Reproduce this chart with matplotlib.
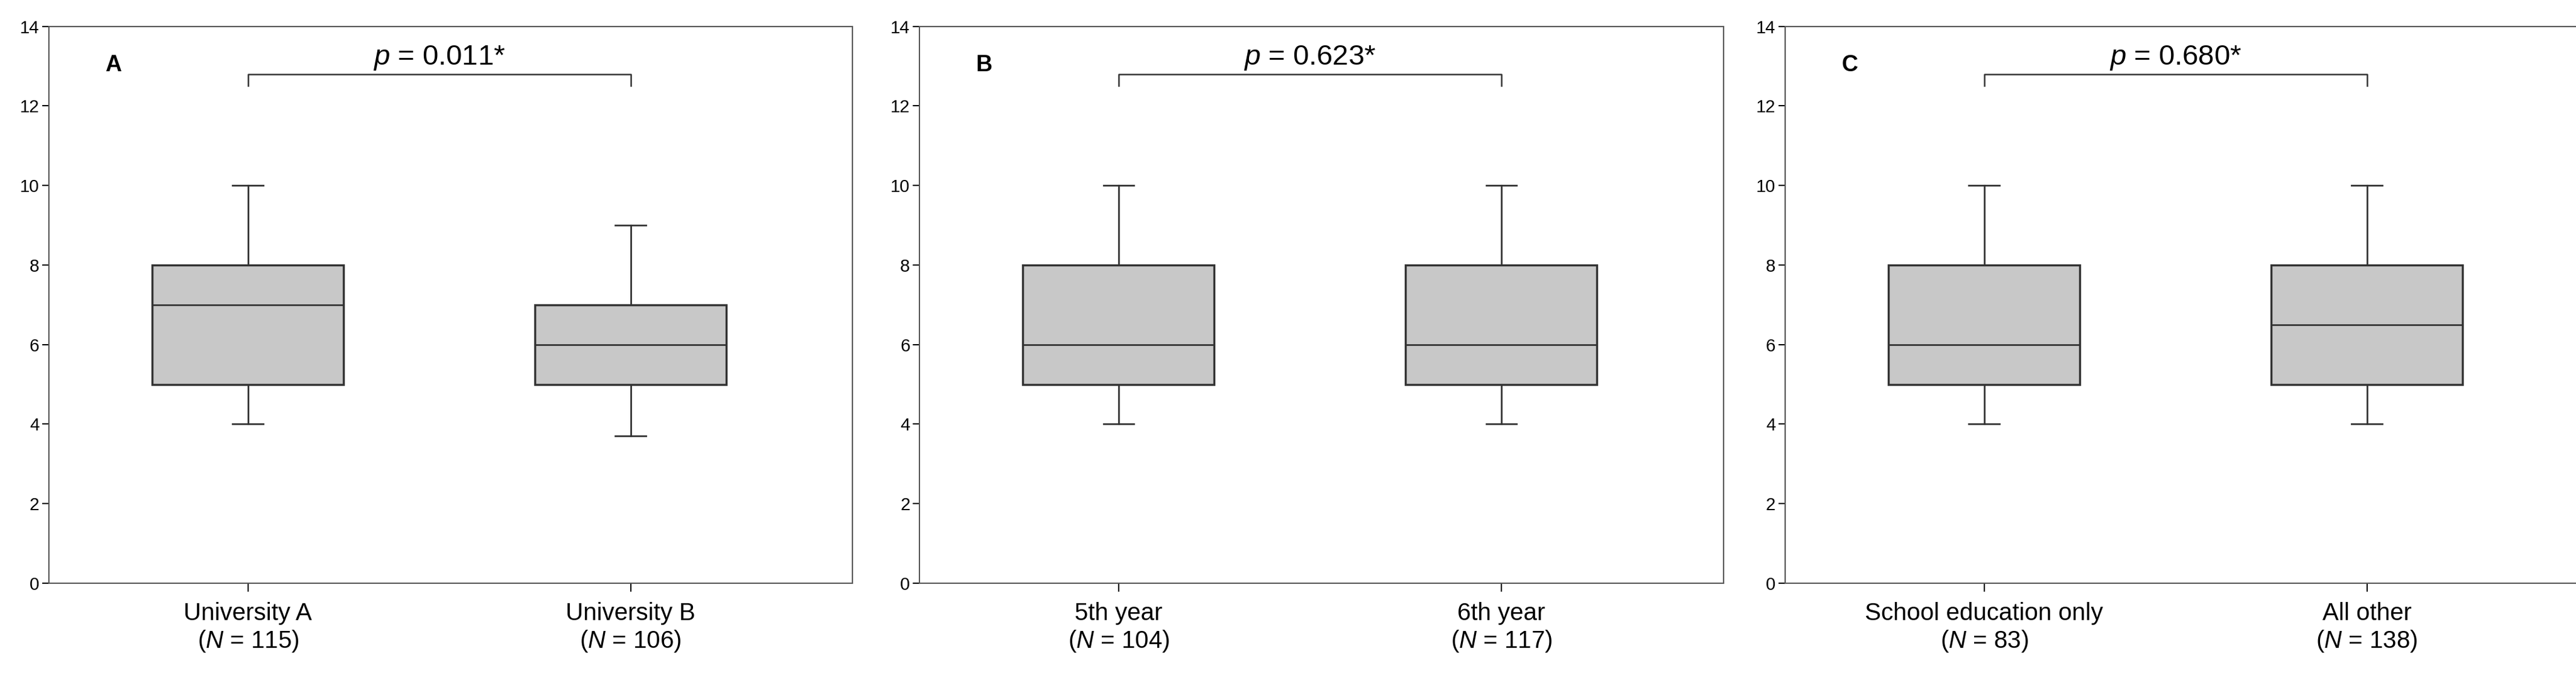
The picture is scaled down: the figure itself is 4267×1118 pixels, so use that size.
import matplotlib.pyplot as plt

plt.rcParams['font.family'] = ['Liberation Sans', 'DejaVu Sans']
plt.rcParams['mathtext.fontset'] = 'custom'
plt.rcParams['mathtext.it'] = 'Liberation Sans:italic'

panels = ['A', 'B', 'C']
labels = [['University A\n($\\it{N}$ = 115)', 'University B\n($\\it{N}$ = 106)'],
          ['5th year\n($\\it{N}$ = 104)', '6th year\n($\\it{N}$ = 117)'],
          ['School education only\n($\\it{N}$ = 83)', 'All other\n($\\it{N}$ = 138)']]
pvals = ['0.011*', '0.623*', '0.680*']
# whislo, q1, med, q3, whishi
stats = [[(4, 5, 7, 8, 10), (3.7, 5, 6, 7, 9)],
         [(4, 5, 6, 8, 10), (4, 5, 6, 8, 10)],
         [(4, 5, 6, 8, 10), (4, 5, 6.5, 8, 10)]]

fig = plt.figure(figsize=(42.67, 11.18), dpi=100)
lefts = [0.019, 0.357, 0.693]
width = 0.312
for i in range(3):
    ax = fig.add_axes([lefts[i], 0.136, width, 0.825])
    bxp = []
    for s, lab in zip(stats[i], labels[i]):
        bxp.append(dict(whislo=s[0], q1=s[1], med=s[2], q3=s[3], whishi=s[4], label=lab, fliers=[]))
    ax.bxp(bxp, positions=[1, 2], widths=0.5, patch_artist=True, showfliers=False,
           boxprops=dict(facecolor='#c8c8c8', edgecolor='#333333', linewidth=2.5),
           medianprops=dict(color='#333333', linewidth=2),
           whiskerprops=dict(color='#333333', linewidth=2),
           capprops=dict(color='#333333', linewidth=2), capwidths=0.08)
    ax.set_xlim(0.48, 2.58)
    ax.set_ylim(0, 14)
    ax.set_yticks(range(0, 15, 2))
    ax.tick_params(axis='y', labelsize=21, length=8, width=1.5, direction='out')
    ax.tick_params(axis='x', labelsize=29, length=10, width=1.5, pad=12)
    for sp in ax.spines.values():
        sp.set_color('#555555')
        sp.set_linewidth(1.5)
    ax.plot([1, 1, 2, 2], [12.5, 12.8, 12.8, 12.5], color='#333333', lw=1.8)
    ax.text(1.5, 12.85, '$\\it{p}$ = ' + pvals[i], ha='center', va='bottom', fontsize=34)
    ax.text(0.08, 0.93, panels[i], transform=ax.transAxes, fontsize=27, fontweight='bold',
            va='center', ha='center')

fig.savefig('out.png')
